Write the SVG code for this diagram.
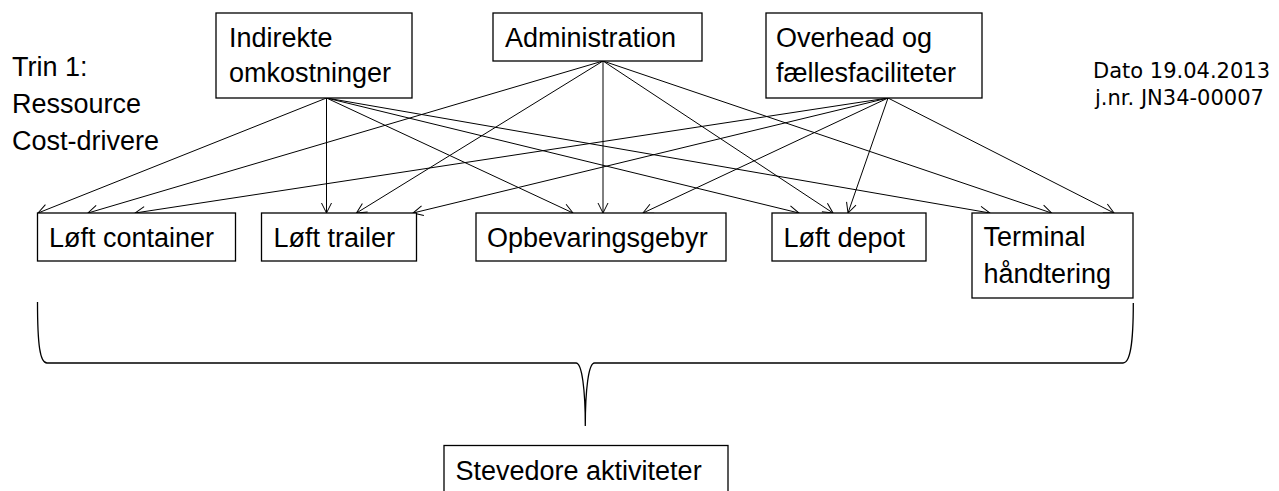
<svg xmlns="http://www.w3.org/2000/svg" width="1279" height="491" viewBox="0 0 1279 491">
<style>
  .box { fill: #fff; stroke: #000; stroke-width: 1.3; }
  .t { font-family: "Liberation Sans", Arial, sans-serif; font-size: 27px; fill: #000; }
  .s { font-family: "DejaVu Sans", Verdana, sans-serif; font-size: 21px; fill: #000; }
  .c { stroke: #000; stroke-width: 1; fill: none; marker-end: url(#ah); }
  .brace { stroke: #000; stroke-width: 1.3; fill: none; }
</style>
<defs>
  <marker id="ah" markerUnits="userSpaceOnUse" markerWidth="14" markerHeight="14" refX="11" refY="6" orient="auto">
    <path d="M1,1 L11,6 L1,11" fill="none" stroke="#000" stroke-width="1"/>
  </marker>
</defs>
<rect width="1279" height="491" fill="#fff"/>

<g id="connectors">
  <line class="c" x1="326.5" y1="98" x2="38" y2="213"/>
  <line class="c" x1="326.5" y1="98" x2="326.5" y2="213"/>
  <line class="c" x1="326.5" y1="98" x2="573" y2="213"/>
  <line class="c" x1="326.5" y1="98" x2="799" y2="213"/>
  <line class="c" x1="326.5" y1="98" x2="990" y2="213"/>
  <line class="c" x1="603" y1="61" x2="88" y2="213"/>
  <line class="c" x1="603" y1="61" x2="356.5" y2="213"/>
  <line class="c" x1="603" y1="61" x2="603" y2="213"/>
  <line class="c" x1="603" y1="61" x2="833" y2="213"/>
  <line class="c" x1="603" y1="61" x2="1051.5" y2="213"/>
  <line class="c" x1="888" y1="98" x2="135" y2="213"/>
  <line class="c" x1="888" y1="98" x2="413" y2="213"/>
  <line class="c" x1="888" y1="98" x2="643" y2="213"/>
  <line class="c" x1="888" y1="98" x2="848" y2="213"/>
  <line class="c" x1="888" y1="98" x2="1114" y2="213"/>
</g>

<g id="brace">
  <path class="brace" d="M37.5,302 C37.5,345 40,363 47,363 L576,363 C582,363 585.3,390 585.3,426 C585.3,390 588.5,363 594.5,363 L1123,363 C1130,363 1133.3,345 1133.3,303"/>
</g>

<g id="label-trin">
  <text class="t" x="12" y="75.5">Trin 1:</text>
  <text class="t" x="12" y="113">Ressource</text>
  <text class="t" x="12" y="149.5">Cost-drivere</text>
</g>

<g id="label-dato">
  <text class="s" x="1093" y="78">Dato 19.04.2013</text>
  <text class="s" x="1095" y="105">j.nr. JN34-00007</text>
</g>

<g id="node-indirekte">
  <rect class="box" x="216" y="13" width="196" height="85"/>
  <text class="t" x="229" y="46.5">Indirekte</text>
  <text class="t" x="229" y="81.5">omkostninger</text>
</g>

<g id="node-administration">
  <rect class="box" x="493" y="13" width="209" height="48"/>
  <text class="t" x="505" y="47">Administration</text>
</g>

<g id="node-overhead">
  <rect class="box" x="766" y="13" width="216" height="85"/>
  <text class="t" x="776" y="46.5">Overhead og</text>
  <text class="t" x="776" y="81.5">fællesfaciliteter</text>
</g>

<g id="node-loeft-container">
  <rect class="box" x="37.5" y="213" width="198" height="48"/>
  <text class="t" x="49" y="246.5">Løft container</text>
</g>

<g id="node-loeft-trailer">
  <rect class="box" x="261.5" y="213" width="155" height="48"/>
  <text class="t" x="273.5" y="246.5">Løft trailer</text>
</g>

<g id="node-opbevaringsgebyr">
  <rect class="box" x="476" y="213" width="250" height="48"/>
  <text class="t" x="487" y="246.5">Opbevaringsgebyr</text>
</g>

<g id="node-loeft-depot">
  <rect class="box" x="772" y="213" width="154" height="48"/>
  <text class="t" x="783.5" y="246.5">Løft depot</text>
</g>

<g id="node-terminal">
  <rect class="box" x="972" y="213" width="161" height="85"/>
  <text class="t" x="983.5" y="246">Terminal</text>
  <text class="t" x="983.5" y="283">håndtering</text>
</g>

<g id="node-stevedore">
  <rect class="box" x="444" y="445.5" width="284" height="60"/>
  <text class="t" x="455.5" y="479.5">Stevedore aktiviteter</text>
</g>
</svg>
